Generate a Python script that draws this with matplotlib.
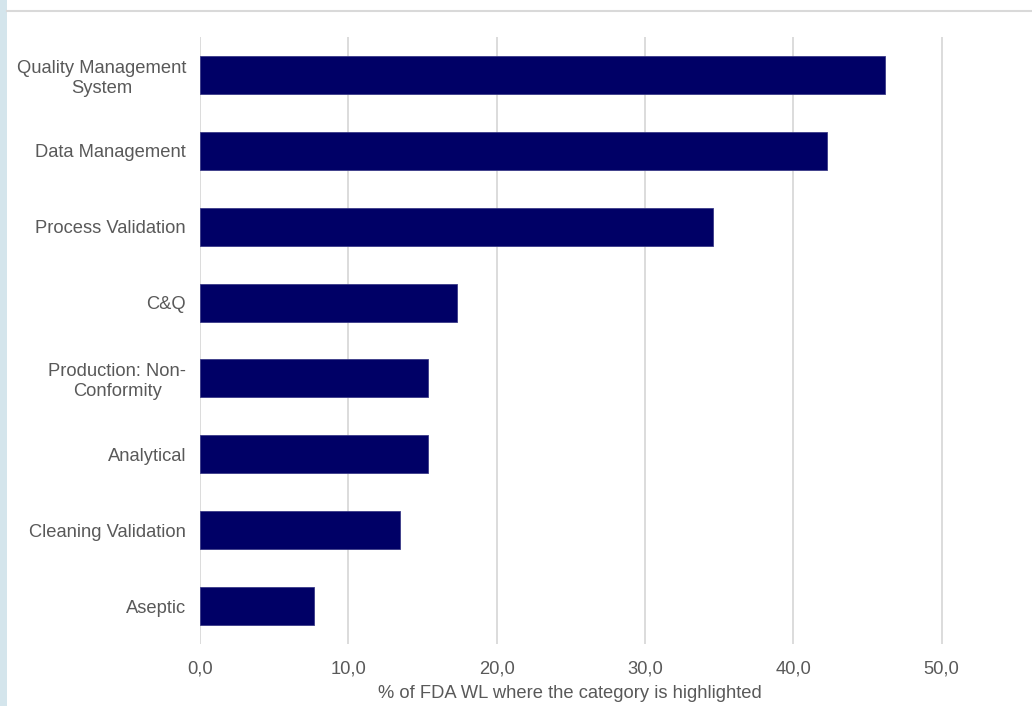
import matplotlib
matplotlib.use("Agg")
from matplotlib import pyplot as plt
from matplotlib.patches import Rectangle
from matplotlib.lines import Line2D

categories = ["Quality Management\nSystem", "Data Management", "Process Validation", "C&Q",
              "Production: Non-\nConformity", "Analytical", "Cleaning Validation", "Aseptic"]
values = [46.2, 42.3, 34.6, 17.3, 15.4, 15.4, 13.5, 7.7]
xticks = [0, 10, 20, 30, 40, 50]
xticklabels = ["0,0", "10,0", "20,0", "30,0", "40,0", "50,0"]

plt.rcParams['font.family'] = ['Liberation Sans', 'DejaVu Sans']
grey = '#595959'
fs = 13.2

W, H = 1032, 706
fig = plt.figure(figsize=(W/100, H/100), dpi=100)

# panel frame: blue strip on the left and a grey rule along the top
fig.add_artist(Rectangle((0, 0), 7/W, 1, transform=fig.transFigure, color='#d4e5ec', lw=0))
fig.add_artist(Line2D([7/W, 1], [1-10.5/H, 1-10.5/H], transform=fig.transFigure, color='#d9d9d9', lw=1.5))

# axes placed in pixel coordinates; x runs to 60 past the right edge
x0, x60 = 200, 200 + 6*148.3
y_top, y_bot = 37, 644
ax = fig.add_axes([x0/W, 1-y_bot/H, (x60-x0)/W, (y_bot-y_top)/H])

pos = list(range(len(categories)))
ax.barh(pos, values, height=0.5, color='#000066', edgecolor='#3a3a88', lw=0.6, zorder=3)
ax.set_ylim(len(categories)-0.5, -0.5)
ax.set_xlim(0, 60)
ax.set_yticks(pos)
ax.set_yticklabels(categories, fontsize=fs, color=grey, ha='right', multialignment='center')
ax.tick_params(axis='y', length=0, pad=10)
ax.set_xticks(xticks)
ax.set_xticklabels(xticklabels, fontsize=fs, color=grey)
ax.tick_params(axis='x', length=0, pad=12)
ax.grid(axis='x', color='#d9d9d9', lw=1.3, zorder=0)
for s in ax.spines.values():
    s.set_visible(False)

fig.text(570/W, 1-693/H, "% of FDA WL where the category is highlighted",
         fontsize=fs, color=grey, ha='center', va='center')

fig.savefig("out.png", dpi=100)
